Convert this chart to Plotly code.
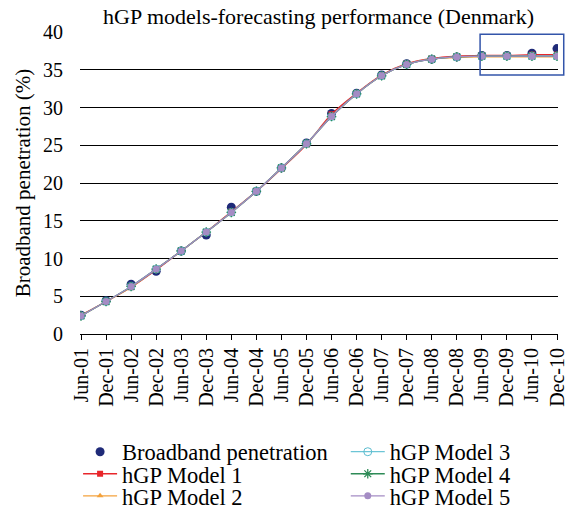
import plotly.graph_objects as go

# half-year periods on the x axis
periods = ["Jun-01", "Dec-01", "Jun-02", "Dec-02", "Jun-03", "Dec-03", "Jun-04", "Dec-04",
           "Jun-05", "Dec-05", "Jun-06", "Dec-06", "Jun-07", "Dec-07", "Jun-08", "Dec-08",
           "Jun-09", "Dec-09", "Jun-10", "Dec-10"]

# observed broadband penetration (%)
actual = [2.5, 4.4, 6.6, 8.3, 11.0, 13.1, 16.8, 18.9, 22.0, 25.3,
          29.2, 31.9, 34.3, 35.8, 36.4, 36.7, 36.9, 36.9, 37.2, 37.8]

# model forecasts (%)
model1 = [2.5, 4.3, 6.2, 8.5, 11.0, 13.5, 16.2, 18.9, 21.9, 25.1,
          29.1, 31.9, 34.3, 35.8, 36.5, 36.8, 36.9, 36.9, 37.0, 37.0]
model2 = [2.4, 4.3, 6.2, 8.6, 11.0, 13.5, 16.1, 18.9, 22.0, 25.2,
          28.8, 31.8, 34.2, 35.7, 36.4, 36.6, 36.7, 36.7, 36.7, 36.7]
model3 = [2.4, 4.3, 6.3, 8.6, 11.0, 13.5, 16.1, 18.9, 22.0, 25.2,
          28.8, 31.8, 34.2, 35.7, 36.4, 36.7, 36.8, 36.8, 36.8, 36.8]
model4 = [2.4, 4.3, 6.3, 8.6, 11.0, 13.5, 16.1, 18.9, 22.0, 25.2,
          28.8, 31.8, 34.2, 35.7, 36.4, 36.7, 36.8, 36.8, 36.8, 36.8]
model5 = [2.4, 4.3, 6.3, 8.6, 11.0, 13.5, 16.1, 18.9, 22.0, 25.2,
          28.8, 31.8, 34.2, 35.7, 36.4, 36.7, 36.8, 36.8, 36.8, 36.8]

serif = "Liberation Serif, Times New Roman, serif"
x = list(range(len(periods)))

fig = go.Figure()
# observed values first, so model markers sit on top like in the original
fig.add_trace(go.Scatter(x=x, y=actual, name="Broadband penetration", mode="markers",
                         marker=dict(symbol="circle", size=9, color="#1f2a78"), legend="legend"))
fig.add_trace(go.Scatter(x=x, y=model1, name="hGP Model 1", mode="lines+markers",
                         line=dict(color="#e8262b", width=1.3, shape="spline"),
                         marker=dict(symbol="square", size=6, color="#e8262b"), legend="legend2"))
fig.add_trace(go.Scatter(x=x, y=model2, name="hGP Model 2", mode="lines+markers",
                         line=dict(color="#f4a23c", width=1.3, shape="spline"),
                         marker=dict(symbol="triangle-up", size=6, color="#f4a23c"), legend="legend3"))
fig.add_trace(go.Scatter(x=x, y=model3, name="hGP Model 3", mode="lines+markers",
                         line=dict(color="#6cc5d6", width=1.3, shape="spline"),
                         marker=dict(symbol="circle-open", size=8, color="#5bbccf"), legend="legend4"))
fig.add_trace(go.Scatter(x=x, y=model4, name="hGP Model 4", mode="lines+markers",
                         line=dict(color="#2e8b57", width=1.3, shape="spline"),
                         marker=dict(symbol="asterisk-open", size=8, color="#2e8b57",
                                     line=dict(width=1.3, color="#2e8b57")), legend="legend5"))
fig.add_trace(go.Scatter(x=x, y=model5, name="hGP Model 5", mode="lines+markers",
                         line=dict(color="#a48cc4", width=1.3, shape="spline"),
                         marker=dict(symbol="circle", size=7, color="#a48cc4"), legend="legend6"))

# highlight box around the last forecasts
fig.add_shape(type="rect", xref="paper", yref="y", x0=0.837, x1=1.012, y0=34.3, y1=39.7,
              line=dict(color="#3355aa", width=1.5), fillcolor="rgba(0,0,0,0)")

# one legend per entry, laid out in two columns of three rows
leg_x = [-0.004, -0.004, -0.004, 0.556, 0.556, 0.556]
leg_y = [-0.391, -0.464, -0.537, -0.391, -0.464, -0.537]
legends = {}
for i in range(6):
    key = "legend" if i == 0 else "legend%d" % (i + 1)
    legends[key] = dict(x=leg_x[i], y=leg_y[i], xanchor="left", yanchor="middle",
                        bgcolor="rgba(0,0,0,0)", font=dict(size=22.5), itemwidth=34)

fig.update_layout(
    width=565, height=512,
    margin=dict(l=80, r=7, t=32, b=178, autoexpand=False),
    showlegend=True,
    paper_bgcolor="white", plot_bgcolor="white",
    font=dict(family=serif, size=20, color="black"),
    title=dict(text="hGP models-forecasting performance (Denmark)", x=0.564, xanchor="center",
               y=0.968, yanchor="middle", font=dict(size=22)),
    xaxis=dict(tickmode="array", tickvals=x, ticktext=periods, tickangle=-90,
               range=[-0.04, 19.04], showgrid=False, showline=True, linecolor="black",
               ticks="outside", ticklen=5, tickcolor="black", zeroline=False,
               tickfont=dict(size=20), ticklabeloverflow="allow", automargin=False),
    yaxis=dict(range=[0, 40], dtick=5, showgrid=True, gridcolor="black", gridwidth=1,
               zeroline=False, showline=False, ticks="", tickfont=dict(size=20),
               ticklabelstandoff=16, automargin=False,
               title=dict(text="Broadband penetration (%)", font=dict(size=21), standoff=6)),
    **legends,
)

# drop the browser's default page margin so the figure sits at the window corner
fig.write_html("out.html", config={"displayModeBar": False},
               post_script="document.body.style.margin='0';")
